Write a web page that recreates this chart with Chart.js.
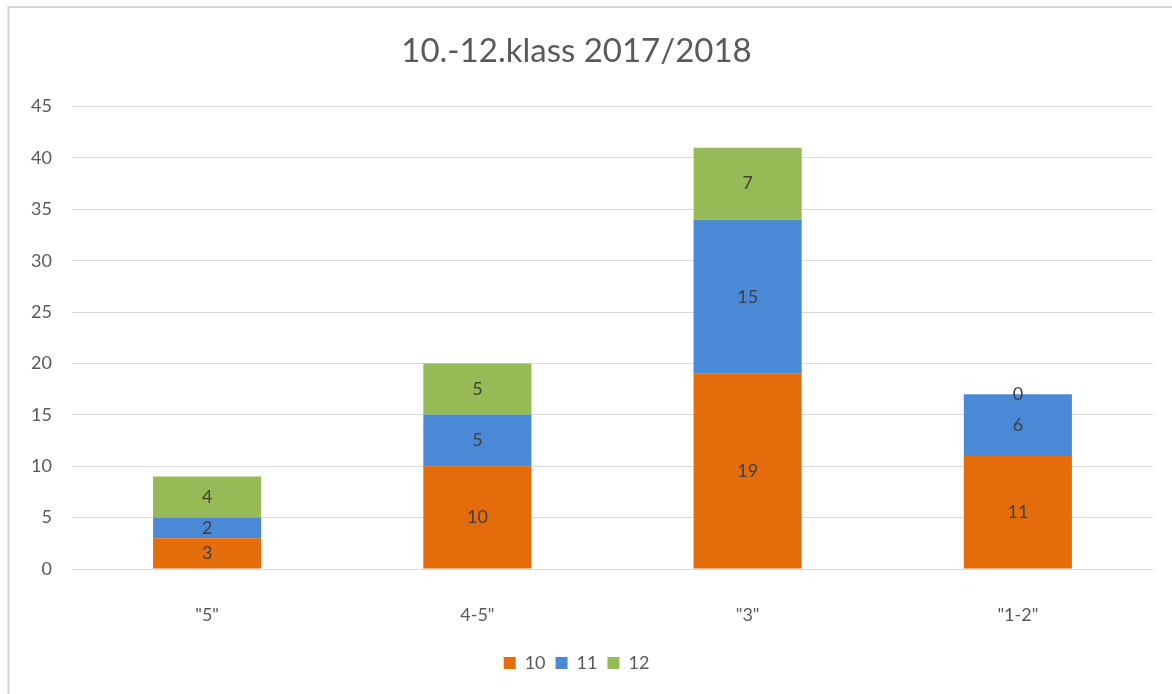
<!DOCTYPE html>
<html>
<head>
<meta charset="utf-8">
<script src="https://cdn.jsdelivr.net/npm/chart.js@4"></script>
<style>
  body { margin: 0; background: #fff; }
  #wrap { width: 1172px; height: 694px; position: relative; }
</style>
</head>
<body>
<div id="wrap"><canvas id="chart" width="1172" height="694"></canvas></div>
<script>
const categories = ['"5"', '4-5"', '"3"', '"1-2"'];
const seriesNames = ["10", "11", "12"];
const values10 = [3, 10, 19, 11];
const values11 = [2, 5, 15, 6];
const values12 = [4, 5, 7, 0];
const yTicks = [0, 5, 10, 15, 20, 25, 30, 35, 40, 45];

const colors = ["#E46C0A", "#4A89D6", "#96BA55"];
const FONT = "Lato, 'Open Sans', sans-serif";

// draws the value in the middle of each bar segment
const barLabels = {
  id: "barLabels",
  afterDatasetsDraw(chart) {
    const ctx = chart.ctx;
    ctx.save();
    ctx.font = "18px " + FONT;
    ctx.fillStyle = "#404040";
    ctx.textAlign = "center";
    ctx.textBaseline = "middle";
    chart.data.datasets.forEach((ds, i) => {
      const meta = chart.getDatasetMeta(i);
      meta.data.forEach((bar, j) => {
        const p = bar.getProps(["x", "y", "base"], true);
        ctx.fillText(ds.data[j], p.x, (p.y + p.base) / 2);
      });
    });
    ctx.restore();
  },
};

// light frame edges (top and left only, the rest is cropped in the original)
const frame = {
  id: "frame",
  beforeDraw(chart) {
    const ctx = chart.ctx;
    ctx.save();
    ctx.fillStyle = "#fff";
    ctx.fillRect(0, 0, chart.width, chart.height);
    ctx.strokeStyle = "#d4d4d4";
    ctx.lineWidth = 2;
    ctx.beginPath();
    ctx.moveTo(8.5, chart.height);
    ctx.lineTo(8.5, 7);
    ctx.lineTo(chart.width, 7);
    ctx.stroke();
    ctx.restore();
  },
};

const ctx = document.getElementById("chart").getContext("2d");
const chart = new Chart(ctx, {
  type: "bar",
  data: {
    labels: categories,
    datasets: [
      { label: seriesNames[0], data: values10, backgroundColor: colors[0] },
      { label: seriesNames[1], data: values11, backgroundColor: colors[1] },
      { label: seriesNames[2], data: values12, backgroundColor: colors[2] },
    ],
  },
  options: {
    responsive: false,
    animation: false,
    barPercentage: 0.4,
    categoryPercentage: 1,
    layout: { padding: { left: 0, right: 19, top: 0, bottom: 12 } },
    plugins: {
      title: {
        display: true,
        text: "10.-12.klass 2017/2018",
        color: "#595959",
        font: { family: FONT, size: 33, weight: "normal" },
        padding: { top: 32, bottom: 35 },
      },
      legend: {
        position: "bottom",
        labels: {
          color: "#595959",
          font: { family: FONT, size: 18 },
          boxWidth: 12,
          boxHeight: 12,
          padding: 10,
        },
      },
      tooltip: { enabled: false },
    },
    scales: {
      x: {
        stacked: true,
        grid: { display: false },
        border: { display: false },
        ticks: { color: "#595959", font: { family: FONT, size: 18 }, padding: 27 },
        afterFit: (s) => { s.height = 75; },
      },
      y: {
        stacked: true,
        min: 0,
        max: 45,
        grid: { color: "#d9d9d9", drawTicks: false },
        border: { display: false },
        afterBuildTicks: (s) => { s.ticks = yTicks.map((v) => ({ value: v })); },
        ticks: { color: "#595959", font: { family: FONT, size: 18 }, padding: 20 },
        afterFit: (s) => { s.width = 72; },
      },
    },
  },
  plugins: [frame, barLabels],
});
</script>
</body>
</html>
